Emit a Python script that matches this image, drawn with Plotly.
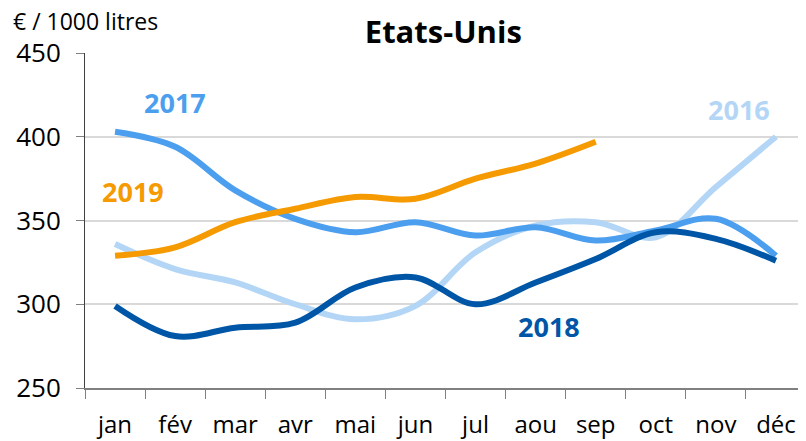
import plotly.graph_objects as go

mois = ["jan", "fév", "mar", "avr", "mai", "jun", "jul", "aou", "sep", "oct", "nov", "déc"]

# € / 1000 litres
y2016 = [336, 321, 313, 300, 291, 299, 331, 347, 349, 340, 370, 400]
y2017 = [403, 394, 368, 351, 343, 349, 341, 346, 338, 344, 351, 329]
y2018 = [299, 281, 286, 289, 310, 316, 300, 313, 327, 343, 339, 326]
y2019 = [329, 334, 349, 357, 364, 363, 375, 384, 397]

series = [
    ("2016", y2016, "#B4D6F6"),
    ("2017", y2017, "#4B9FEE"),
    ("2018", y2018, "#0056A6"),
    ("2019", y2019, "#F59A00"),
]

# position des étiquettes (indice du mois, valeur)
etiquettes = {
    "2016": (10.38, 416),
    "2017": (1.0, 420.5),
    "2018": (7.23, 287),
    "2019": (0.3, 367.5),
}

# la page html ajoute une marge de 8 px autour de la figure
W, H = 798, 433
L, T, B = 77, 45, 53
PW, PH = W - L, H - T - B

fig = go.Figure()

for nom, vals, couleur in series:
    fig.add_trace(go.Scatter(
        x=mois[:len(vals)], y=vals, mode="lines", name=nom,
        line=dict(color=couleur, width=6, shape="spline", smoothing=1),
        hoverinfo="skip",
    ))
    ex, ey = etiquettes[nom]
    fig.add_annotation(x=ex, y=ey, xref="x", yref="y", text="<b>" + nom + "</b>",
                       showarrow=False, font=dict(size=27, color=couleur, family="Open Sans"))

fig.add_annotation(x=(4 - L) / PW, y=1 + (T - 13) / PH, xref="paper", yref="paper",
                   xanchor="left", yanchor="middle", text="€ / 1000 litres",
                   showarrow=False, borderpad=0, font=dict(size=23, color="#000000"))

fig.update_layout(
    width=W, height=H,
    paper_bgcolor="white", plot_bgcolor="white",
    margin=dict(l=L, r=0, t=T, b=B),
    showlegend=False,
    font=dict(family="Open Sans", color="#000000"),
    title=dict(text="<b>Etats-Unis</b>", x=0.497, xref="paper", y=1 - 24.5 / H, yref="container",
               xanchor="center", yanchor="middle", font=dict(size=31, color="#000000")),
    xaxis=dict(
        type="category", range=[-0.5, 11.5], tickson="boundaries",
        ticks="outside", ticklen=9, tickcolor="#808080",
        showline=True, linecolor="#808080", linewidth=1.5,
        showgrid=False, tickfont=dict(size=24), ticklabelstandoff=14,
    ),
    yaxis=dict(
        range=[250, 450], tickvals=[250, 300, 350, 400, 450],
        ticks="outside", ticklen=8, tickcolor="#808080",
        showline=True, linecolor="#404040", linewidth=1,
        showgrid=True, gridcolor="#D9D9D9", gridwidth=1.5, zeroline=False,
        tickfont=dict(size=26), ticklabelstandoff=10,
    ),
)

fig.write_html("out.html")
